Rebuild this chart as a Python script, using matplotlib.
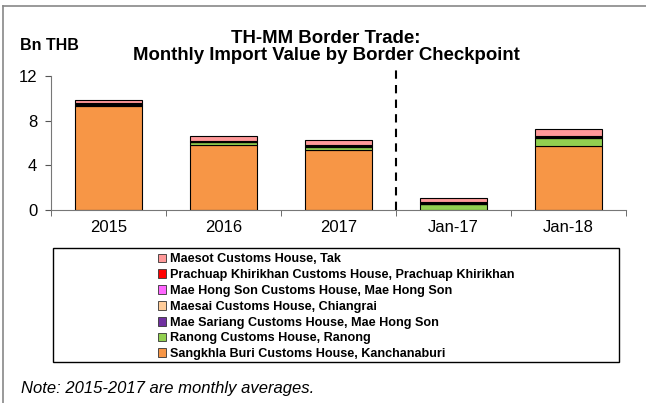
import matplotlib
matplotlib.use("Agg")
import matplotlib.pyplot as plt
from matplotlib.patches import Rectangle, Patch
from matplotlib.lines import Line2D
import numpy as np

plt.rcParams['font.family'] = ['Liberation Sans', 'DejaVu Sans']

# categories and values (Bn THB)
periods = ['2015', '2016', '2017', 'Jan-17', 'Jan-18']
sangkhla = [9.30, 5.82, 5.34, 0.02, 5.73]
ranong = [0.10, 0.25, 0.30, 0.50, 0.69]
mae_sariang = [0.05, 0.04, 0.05, 0.03, 0.05]
maesai = [0.03, 0.03, 0.04, 0.02, 0.04]
mae_hong_son = [0.02, 0.02, 0.03, 0.02, 0.03]
prachuap = [0.05, 0.05, 0.10, 0.08, 0.12]
maesot = [0.32, 0.40, 0.42, 0.42, 0.57]

series = [
    ('Sangkhla Buri Customs House, Kanchanaburi', sangkhla, '#F79646'),
    ('Ranong Customs House, Ranong', ranong, '#92D050'),
    ('Mae Sariang Customs House, Mae Hong Son', mae_sariang, '#7030A0'),
    ('Maesai Customs House, Chiangrai', maesai, '#FFCC99'),
    ('Mae Hong Son Customs House, Mae Hong Son', mae_hong_son, '#FF66FF'),
    ('Prachuap Khirikhan Customs House, Prachuap Khirikhan', prachuap, '#FF0000'),
    ('Maesot Customs House, Tak', maesot, '#FF9999'),
]

fig = plt.figure(figsize=(6.46, 4.03), dpi=100)
ax = fig.add_axes([0.079, 0.479, 0.890, 0.332])

x = np.arange(len(periods))
bottom = np.zeros(len(periods))
for name, vals, col in series:
    ax.bar(x, vals, 0.58, bottom=bottom, color=col, edgecolor='black', linewidth=0.8)
    bottom += np.array(vals)

# separator between averages and single months
ax.axvline(2.5, ymin=0, ymax=1.06, color='black', linestyle=(0, (4, 3)), linewidth=1.5, clip_on=False)

ax.set_xlim(-0.5, 4.5)
ax.set_ylim(0, 12)
ax.set_yticks([0, 4, 8, 12])
ax.set_xticks(x)
ax.set_xticklabels(periods, fontsize=12)
ax.set_xticks(np.arange(-0.5, 5, 1), minor=True)
ax.tick_params(axis='x', which='major', length=0, pad=7)
ax.tick_params(axis='x', which='minor', length=4, color='#555555')
ax.tick_params(axis='y', labelsize=12, length=4, color='#555555', pad=6)
for s in ['top', 'right']:
    ax.spines[s].set_visible(False)
for s in ['left', 'bottom']:
    ax.spines[s].set_color('#777777')

fig.text(0.505, 0.884, 'TH-MM Border Trade:\nMonthly Import Value by Border Checkpoint',
         ha='center', va='center', fontsize=13.4, fontweight='bold', linespacing=1.0)
fig.text(0.031, 0.886, 'Bn THB', fontsize=11.5, fontweight='bold', va='center')

# legend box
fig.add_artist(Rectangle((53 / 646, 1 - 362 / 403), 566 / 646, 114 / 403,
                         transform=fig.transFigure, fill=False, edgecolor='black', linewidth=1))
handles = [Patch(facecolor=col, edgecolor='#333333', linewidth=0.6, label=name)
           for name, vals, col in series[::-1]]
leg = fig.legend(handles=handles, loc='upper left', bbox_to_anchor=(0.244, 0.371),
                 frameon=False, prop={'size': 9.1, 'weight': 'bold'},
                 handlelength=0.7, handleheight=0.7, handletextpad=0.3,
                 labelspacing=0.3, borderpad=0, borderaxespad=0)

fig.text(0.033, 0.037, 'Note: 2015-2017 are monthly averages.', fontsize=12, style='italic', va='center')

# outer frame (top and left edges)
fig.add_artist(Line2D([3 / 646, 1], [1 - 6 / 403, 1 - 6 / 403], transform=fig.transFigure,
                      color='#888888', linewidth=1.2))
fig.add_artist(Line2D([3 / 646, 3 / 646], [0, 1 - 6 / 403], transform=fig.transFigure,
                      color='#888888', linewidth=1.2))

fig.savefig('out.png', dpi=100)
